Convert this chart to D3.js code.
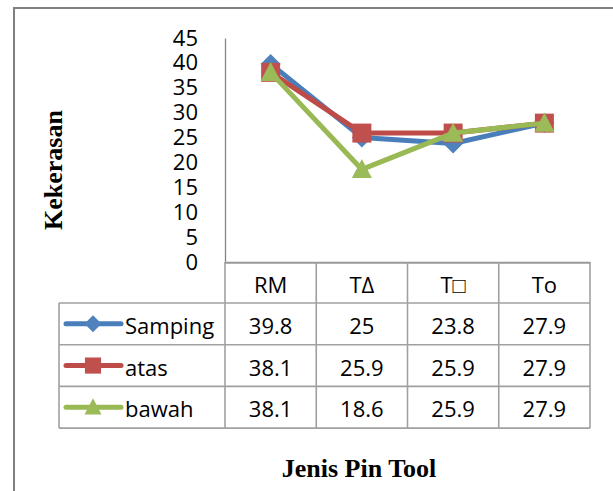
<!DOCTYPE html>
<html>
<head>
<meta charset="utf-8">
<script src="https://cdn.jsdelivr.net/npm/d3@7/dist/d3.min.js"></script>
<style>
  html, body { margin: 0; padding: 0; background: #fff; }
  svg { display: block; }
</style>
</head>
<body>
<svg id="chart" width="613" height="491"></svg>
<script>
const categories = ["RM", "TΔ", "T□", "To"];
const seriesNames = ["Samping", "atas", "bawah"];
const sampingValues = [39.8, 25, 23.8, 27.9];
const atasValues = [38.1, 25.9, 25.9, 27.9];
const bawahValues = [38.1, 18.6, 25.9, 27.9];
const yTicks = [0, 5, 10, 15, 20, 25, 30, 35, 40, 45];
const yTitle = "Kekerasan";
const xTitle = "Jenis Pin Tool";

const series = [
  { name: seriesNames[0], values: sampingValues, line: "#4A7EBB", fill: "#4F81BD", shape: "diamond" },
  { name: seriesNames[1], values: atasValues, line: "#BE4B48", fill: "#C0504D", shape: "square" },
  { name: seriesNames[2], values: bawahValues, line: "#98B954", fill: "#9BBB59", shape: "triangle" }
];

const svg = d3.select("#chart");
const W = 613, H = 491;

// outer frame (top and left edges visible)
svg.append("line").attr("x1", 13).attr("x2", W).attr("y1", 8).attr("y2", 8)
  .attr("stroke", "#808080").attr("stroke-width", 2);
svg.append("line").attr("x1", 14).attr("x2", 14).attr("y1", 7).attr("y2", H)
  .attr("stroke", "#808080").attr("stroke-width", 2);

const plotLeft = 225, plotRight = 590, plotTop = 38, plotBottom = 262;
const x = d3.scaleBand().domain(categories).range([plotLeft, plotRight]).padding(0);
const y = d3.scaleLinear().domain([0, 45]).range([plotBottom, plotTop]);

const font = "'Open Sans', 'Liberation Sans', sans-serif";

// Y axis
const yAxis = d3.axisLeft(y).tickValues(yTicks).tickSize(0).tickPadding(27);
const gy = svg.append("g").attr("transform", `translate(${plotLeft},0)`).call(yAxis);
gy.select(".domain").attr("stroke", "#868686").attr("stroke-width", 1.3);
gy.selectAll("text").attr("font-family", font).attr("font-size", 22).attr("fill", "#000");

// X axis line
svg.append("line").attr("x1", plotLeft).attr("x2", plotRight)
  .attr("y1", plotBottom + 0.5).attr("y2", plotBottom + 0.5)
  .attr("stroke", "#868686").attr("stroke-width", 1.3);

// Data table
const headerTop = 263, headerBottom = 303;
const rowH = 41.7;
const tableLeft = 59;
const rowTops = series.map((s, i) => headerBottom + i * rowH);
const tableBottom = headerBottom + series.length * rowH;
const tb = svg.append("g");
const tStroke = "#a0a0a0", tW = 1.6;
// vertical lines at category boundaries
const bounds = categories.map(c => x(c)).concat([x(categories[categories.length - 1]) + x.bandwidth()]);
tb.selectAll("line.v").data(bounds).enter().append("line")
  .attr("x1", d => d).attr("x2", d => d).attr("y1", plotBottom).attr("y2", tableBottom)
  .attr("stroke", tStroke).attr("stroke-width", tW);
tb.append("line").attr("x1", tableLeft).attr("x2", tableLeft).attr("y1", headerBottom).attr("y2", tableBottom)
  .attr("stroke", tStroke).attr("stroke-width", tW);
// horizontal lines
tb.append("line").attr("x1", plotLeft).attr("x2", plotRight).attr("y1", headerTop).attr("y2", headerTop)
  .attr("stroke", tStroke).attr("stroke-width", tW);
const hLines = rowTops.concat([tableBottom]);
tb.selectAll("line.h").data(hLines).enter().append("line")
  .attr("x1", tableLeft).attr("x2", plotRight).attr("y1", d => d).attr("y2", d => d)
  .attr("stroke", tStroke).attr("stroke-width", tW);

// header labels
tb.selectAll("text.hdr").data(categories).enter().append("text")
  .attr("x", d => x(d) + x.bandwidth() / 2).attr("y", (headerTop + headerBottom) / 2 + 1)
  .attr("text-anchor", "middle").attr("dominant-baseline", "central")
  .attr("font-family", font).attr("font-size", 22).attr("fill", "#000").text(d => d);

// marker path generator
function markerPath(shape, r) {
  if (shape === "diamond") return `M0,${-r}L${r},0L0,${r}L${-r},0Z`;
  if (shape === "square") return `M${-r},${-r}H${r}V${r}H${-r}Z`;
  const h = r * 1.9;
  return `M0,${-h * 0.55}L${r},${h * 0.45}L${-r},${h * 0.45}Z`;
}
const markerR = { diamond: 10, square: 9.5, triangle: 10 };

// rows
series.forEach((s, i) => {
  const cy = rowTops[i] + rowH / 2;
  const g = tb.append("g");
  g.append("line").attr("x1", 66).attr("x2", 121).attr("y1", cy).attr("y2", cy)
    .attr("stroke", s.line).attr("stroke-width", 5).attr("stroke-linecap", "round");
  g.append("path").attr("d", markerPath(s.shape, markerR[s.shape] * 0.85))
    .attr("transform", `translate(93,${cy})`).attr("fill", s.fill);
  g.append("text").attr("x", 125).attr("y", cy + 1).attr("dominant-baseline", "central")
    .attr("font-family", font).attr("font-size", 22).attr("fill", "#000").text(s.name);
  g.selectAll("text.val").data(s.values).enter().append("text")
    .attr("x", (d, j) => x(categories[j]) + x.bandwidth() / 2).attr("y", cy + 1)
    .attr("text-anchor", "middle").attr("dominant-baseline", "central")
    .attr("font-family", font).attr("font-size", 22).attr("fill", "#000").text(d => d);
});

// lines and markers
const lineGen = d3.line().x((d, j) => x(categories[j]) + x.bandwidth() / 2).y(d => y(d));
series.forEach(s => {
  svg.append("path").datum(s.values).attr("d", lineGen)
    .attr("fill", "none").attr("stroke", s.line).attr("stroke-width", 5)
    .attr("stroke-linejoin", "round").attr("stroke-linecap", "round");
  svg.selectAll(null).data(s.values).enter().append("path")
    .attr("d", markerPath(s.shape, markerR[s.shape]))
    .attr("transform", (d, j) => `translate(${x(categories[j]) + x.bandwidth() / 2},${y(d)})`)
    .attr("fill", s.fill);
});

// titles
svg.append("text").attr("transform", "translate(62,170) rotate(-90)")
  .attr("text-anchor", "middle").attr("font-family", "'Liberation Serif', 'Times New Roman', serif")
  .attr("font-weight", "bold").attr("font-size", 26).attr("fill", "#000").text(yTitle);
svg.append("text").attr("x", 359).attr("y", 477)
  .attr("text-anchor", "middle").attr("font-family", "'Liberation Serif', 'Times New Roman', serif")
  .attr("font-weight", "bold").attr("font-size", 26).attr("fill", "#000").text(xTitle);
</script>
</body>
</html>
